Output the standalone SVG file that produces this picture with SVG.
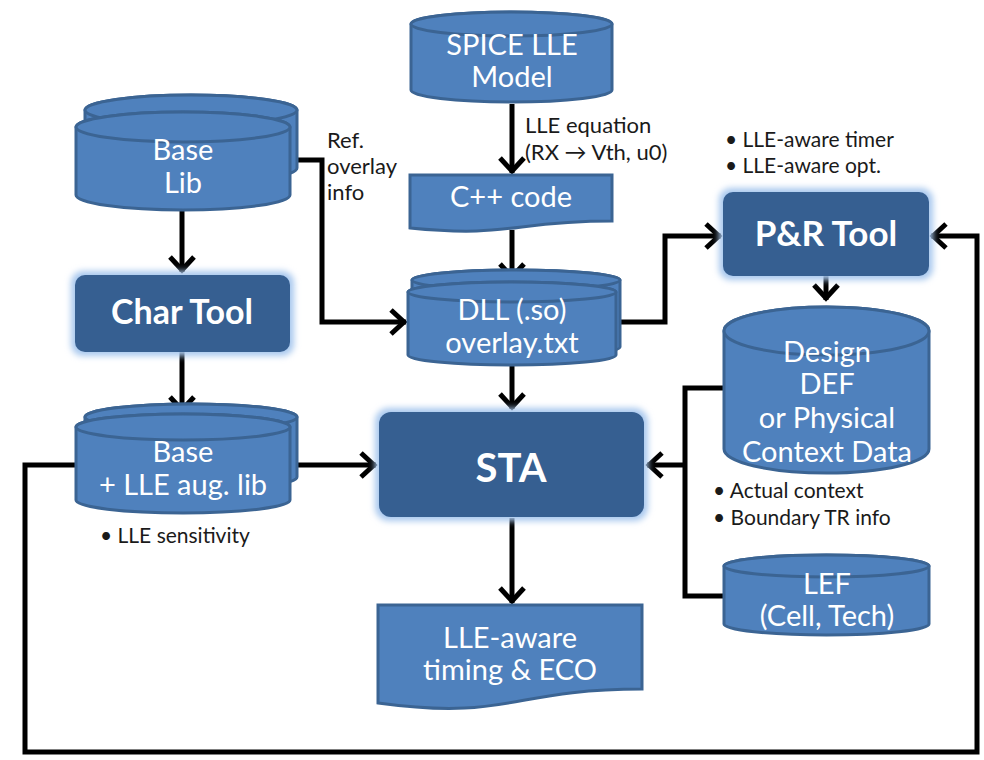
<svg xmlns="http://www.w3.org/2000/svg" width="984" height="760" viewBox="0 0 984 760">
<style>
.shp{fill:#4f81bd;stroke:#3b6493;stroke-width:3}
.box{fill:#365f91}
.glow{fill:#a8c8ee;filter:url(#blur)}
.nt{font-family:Lato,"Open Sans",sans-serif;fill:#fff;text-anchor:middle;font-size:29px}
.bt{font-family:Lato,"Open Sans",sans-serif;fill:#fff;text-anchor:middle;font-weight:bold}
.lb{font-family:Lato,"Open Sans",sans-serif;fill:#1a1a1a;font-size:22px}
.bl{font-family:Lato,"Open Sans",sans-serif;fill:#1a1a1a;font-size:21px}
.cn{fill:none;stroke:#000;stroke-width:5;stroke-linejoin:miter}
</style>
<defs>
<filter id="blur" x="-20%" y="-30%" width="140%" height="160%"><feGaussianBlur stdDeviation="3"/></filter>
<marker id="ah" markerUnits="userSpaceOnUse" markerWidth="40" markerHeight="40" viewBox="-20 -20 40 40" refX="0" refY="0" orient="auto" overflow="visible">
<path d="M-15,-12 L-2,0 L-15,12" fill="none" stroke="#000" stroke-width="5"/>
</marker>
</defs>
<rect width="984" height="760" fill="#fff"/>

<g id="connectors">
<path class="cn" d="M512,104 V173" marker-end="url(#ah)"/>
<path class="cn" d="M512,230 V279" marker-end="url(#ah)"/>
<path class="cn" d="M512,366 V409" marker-end="url(#ah)"/>
<path class="cn" d="M512,518 V603" marker-end="url(#ah)"/>
<path class="cn" d="M182,210 V272" marker-end="url(#ah)"/>
<path class="cn" d="M182,352 V412" marker-end="url(#ah)"/>
<path class="cn" d="M290,160 H322 V322 H406" marker-end="url(#ah)"/>
<path class="cn" d="M617,322 H665 V236 H721" marker-end="url(#ah)"/>
<path class="cn" d="M826,276 V300" marker-end="url(#ah)"/>
<path class="cn" d="M297,465 H376" marker-end="url(#ah)"/>
<path class="cn" d="M724,388 H685 V596 H724"/>
<path class="cn" d="M685,465 H647" marker-end="url(#ah)"/>
<path class="cn" d="M76,465 H25 V752 H977 V236 H931" marker-end="url(#ah)"/>
</g>

<g id="spice">
<path class="shp" d="M411,24 L411,90 A100.5,12 0 0 0 612,90 L612,24 A100.5,12 0 0 0 411,24 Z"/>
<ellipse class="shp" cx="511.5" cy="24" rx="100.5" ry="12"/>
<text class="nt" x="512" y="55" font-size="30">SPICE LLE</text>
<text class="nt" x="512" y="87" font-size="30">Model</text>
</g>

<g id="cpp">
<path class="shp" d="M410,175 H612 V221 C511,221 511,238 410,228 Z"/>
<text class="nt" x="511" y="207" font-size="27">C++ code</text>
</g>

<g id="baselib">
<path class="shp" d="M85,110 L85,168 A106,15 0 0 0 297,168 L297,110 A106,15 0 0 0 85,110 Z"/>
<ellipse class="shp" cx="191" cy="110" rx="106" ry="15"/>
<path class="shp" d="M76,127 L76,195 A107,15 0 0 0 290,195 L290,127 A107,15 0 0 0 76,127 Z"/>
<ellipse class="shp" cx="183" cy="127" rx="107" ry="15"/>
<text class="nt" x="183" y="160">Base</text>
<text class="nt" x="183" y="193">Lib</text>
</g>

<g id="chartool">
<rect class="glow" x="71" y="271" width="223" height="85" rx="12"/>
<rect class="box" x="75" y="275" width="215" height="77" rx="10"/>
<text class="bt" x="182" y="324" font-size="34">Char Tool</text>
</g>

<g id="baselle">
<path class="shp" d="M85,417 L85,477 A106,13 0 0 0 297,477 L297,417 A106,13 0 0 0 85,417 Z"/>
<ellipse class="shp" cx="191" cy="417" rx="106" ry="13"/>
<path class="shp" d="M76,427 L76,500 A107,13 0 0 0 290,500 L290,427 A107,13 0 0 0 76,427 Z"/>
<ellipse class="shp" cx="183" cy="427" rx="107" ry="13"/>
<text class="nt" x="183" y="462">Base</text>
<text class="nt" x="183" y="495">+ LLE aug. lib</text>
</g>

<g id="dll">
<path class="shp" d="M412,280 L412,347 A104,10 0 0 0 620,347 L620,280 A104,10 0 0 0 412,280 Z"/>
<ellipse class="shp" cx="516" cy="280" rx="104" ry="10"/>
<path class="shp" d="M408,292 L408,355 A104,10 0 0 0 616,355 L616,292 A104,10 0 0 0 408,292 Z"/>
<ellipse class="shp" cx="512" cy="292" rx="104" ry="10"/>
<text class="nt" x="512" y="320" font-size="27">DLL (.so)</text>
<text class="nt" x="512" y="353" font-size="27">overlay.txt</text>
</g>

<g id="sta">
<rect class="glow" x="375" y="408" width="273" height="113" rx="14"/>
<rect class="box" x="379" y="412" width="265" height="105" rx="12"/>
<text class="bt" x="511" y="482" font-size="40">STA</text>
</g>

<g id="pr">
<rect class="glow" x="719" y="188" width="214" height="92" rx="12"/>
<rect class="box" x="723" y="192" width="206" height="84" rx="10"/>
<text class="bt" x="826" y="246" font-size="35">P&amp;R Tool</text>
</g>

<g id="design">
<path class="shp" d="M724,331 L724,449 A102.5,24 0 0 0 929,449 L929,331 A102.5,24 0 0 0 724,331 Z"/>
<ellipse class="shp" cx="826.5" cy="331" rx="102.5" ry="24"/>
<text class="nt" x="827" y="362">Design</text>
<text class="nt" x="827" y="394">DEF</text>
<text class="nt" x="827" y="428">or Physical</text>
<text class="nt" x="827" y="462">Context Data</text>
</g>

<g id="lef">
<path class="shp" d="M724,566 L724,624 A102.5,11 0 0 0 929,624 L929,566 A102.5,11 0 0 0 724,566 Z"/>
<ellipse class="shp" cx="826.5" cy="566" rx="102.5" ry="11"/>
<text class="nt" x="827" y="594">LEF</text>
<text class="nt" x="827" y="626">(Cell, Tech)</text>
</g>

<g id="result">
<path class="shp" d="M378,605 H642 V689 C510,689 510,721 378,703 Z"/>
<text class="nt" x="510" y="648">LLE-aware</text>
<text class="nt" x="510" y="680">timing &amp; ECO</text>
</g>

<g id="labels">
<text class="lb" x="327" y="148">Ref.</text>
<text class="lb" x="327" y="174">overlay</text>
<text class="lb" x="327" y="200">info</text>
<text class="lb" x="525" y="133">LLE equation</text>
<text class="lb" x="525" y="160">(RX → Vth, u0)</text>
<text class="bl" x="725" y="147">• LLE-aware timer</text>
<text class="bl" x="725" y="173">• LLE-aware opt.</text>
<text class="bl" x="100" y="543">• LLE sensitivity</text>
<text class="bl" x="713" y="498">• Actual context</text>
<text class="bl" x="713" y="525">• Boundary TR info</text>
</g>
</svg>
